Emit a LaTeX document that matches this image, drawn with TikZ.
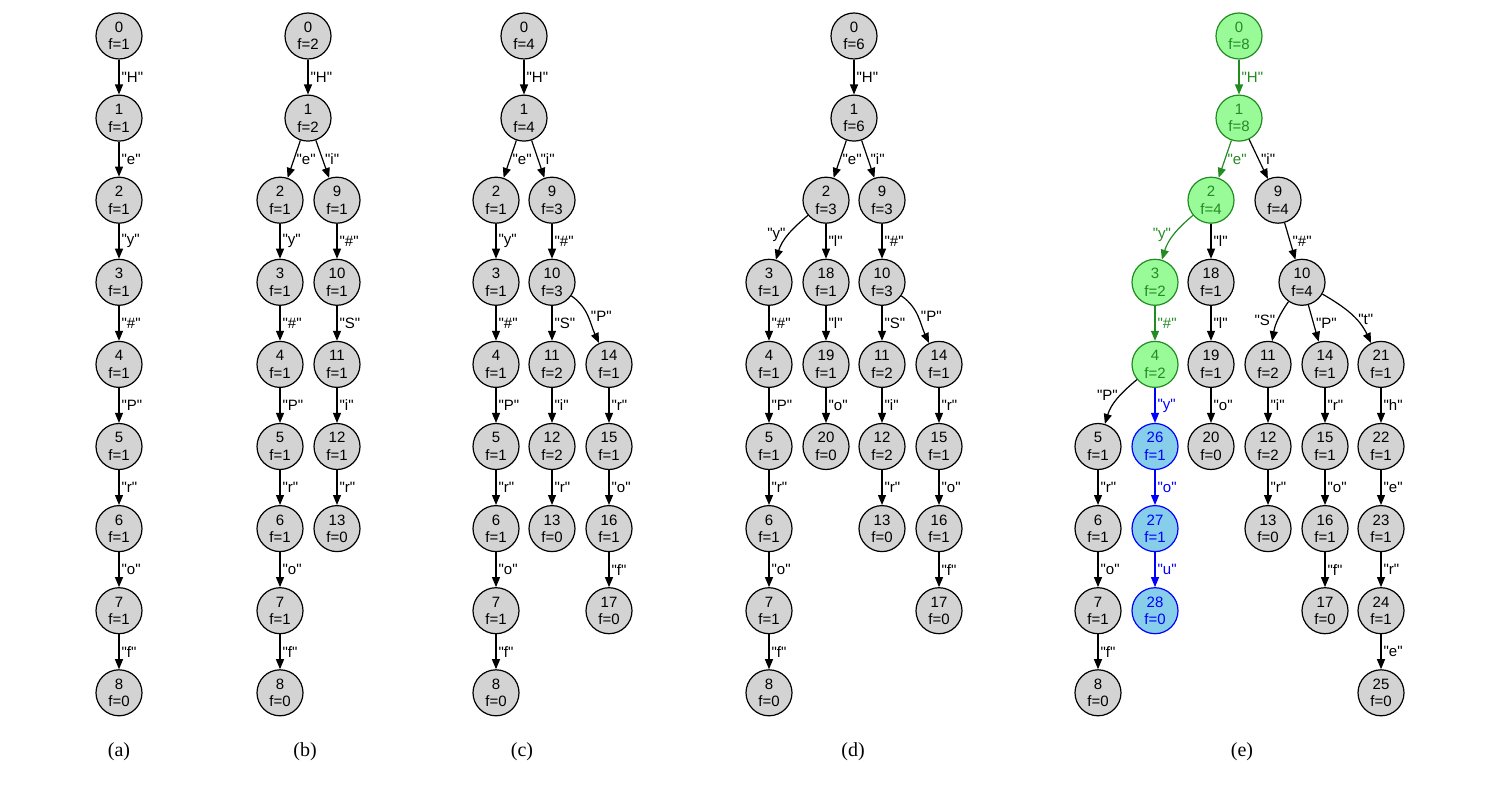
\documentclass[tikz,border=0pt]{standalone}
\usepackage{fontspec}
\newfontfamily\nodefont{Liberation Sans}
\newfontfamily\capfont{Liberation Serif}
\usetikzlibrary{arrows.meta}
\definecolor{nodegray}{HTML}{D3D3D3}
\definecolor{pathgreen}{HTML}{228B22}
\definecolor{pathfill}{HTML}{98FB98}
\definecolor{newfill}{HTML}{87CEEB}
\definecolor{newblue}{HTML}{0000FF}
\newcommand{\qt}[1]{\symbol{34}#1\symbol{34}}

\tikzset{
  tnode/.style={circle, draw, line width=1.2pt, fill=nodegray, minimum size=46pt,
    inner sep=0pt, align=center, font=\nodefont\fontsize{15}{17.5}\selectfont},
  gnode/.style={tnode, draw=pathgreen, fill=pathfill, text=pathgreen},
  bnode/.style={tnode, draw=newblue, fill=newfill, text=newblue},
  edge/.style={line width=1.2pt, -{Triangle[length=10pt,width=8pt]}},
  gedge/.style={edge, pathgreen},
  bedge/.style={edge, newblue},
  elab/.style={right, inner sep=2pt, font=\nodefont\fontsize{15}{17}\selectfont},
  caption/.style={font=\capfont\fontsize{20}{24}\selectfont},
}

\begin{document}
\begin{tikzpicture}[x=1pt, y=-82.1pt]
  \useasboundingbox (0,-0.4385) rectangle (1504,9.111);

  % (a) one chain
  \foreach \n/\fv in {0/1,1/1,2/1,3/1,4/1,5/1,6/1,7/1,8/0}
    \node[tnode] (a\n) at (119,\n) {\n\\f=\fv};
  \foreach \p/\q/\lab in {0/1/H,1/2/e,2/3/y,3/4/\#,4/5/P,5/6/r,6/7/o,7/8/f}
    \draw[edge] (a\p) -- node[elab] {\qt{\lab}} (a\q);

  % (b)
  \foreach \n/\x/\row/\fv in {0/308/0/2,1/308/1/2,2/280/2/1,3/280/3/1,4/280/4/1,
      5/280/5/1,6/280/6/1,7/280/7/1,8/280/8/0,9/337/2/1,10/337/3/1,11/337/4/1,
      12/337/5/1,13/337/6/0}
    \node[tnode] (b\n) at (\x,\row) {\n\\f=\fv};
  \foreach \p/\q/\lab in {0/1/H,1/2/e,2/3/y,3/4/\#,4/5/P,5/6/r,6/7/o,7/8/f,
      1/9/i,9/10/\#,10/11/S,11/12/i,12/13/r}
    \draw[edge] (b\p) -- node[elab] {\qt{\lab}} (b\q);

  % (c)
  \foreach \n/\x/\row/\fv in {0/524/0/4,1/524/1/4,2/496/2/1,3/496/3/1,4/496/4/1,
      5/496/5/1,6/496/6/1,7/496/7/1,8/496/8/0,9/552/2/3,10/552/3/3,11/552/4/2,
      12/552/5/2,13/552/6/0,14/609/4/1,15/609/5/1,16/609/6/1,17/609/7/0}
    \node[tnode] (c\n) at (\x,\row) {\n\\f=\fv};
  \foreach \p/\q/\lab in {0/1/H,1/2/e,2/3/y,3/4/\#,4/5/P,5/6/r,6/7/o,7/8/f,
      1/9/i,9/10/\#,10/11/S,11/12/i,12/13/r,14/15/r,15/16/o,16/17/f}
    \draw[edge] (c\p) -- node[elab] {\qt{\lab}} (c\q);
  \draw[edge] (c10) to[out=-35,in=115] node[elab] {\qt{P}} (c14);

  % (d)
  \foreach \n/\x/\row/\fv in {0/854/0/6,1/854/1/6,2/826/2/3,9/882/2/3,3/769/3/1,
      4/769/4/1,5/769/5/1,6/769/6/1,7/769/7/1,8/769/8/0,18/826/3/1,19/826/4/1,
      20/826/5/0,10/882/3/3,11/882/4/2,12/882/5/2,13/882/6/0,14/939/4/1,
      15/939/5/1,16/939/6/1,17/939/7/0}
    \node[tnode] (d\n) at (\x,\row) {\n\\f=\fv};
  \foreach \p/\q/\lab in {0/1/H,1/2/e,1/9/i,2/18/l,18/19/l,19/20/o,3/4/\#,4/5/P,
      5/6/r,6/7/o,7/8/f,9/10/\#,10/11/S,11/12/i,12/13/r,14/15/r,15/16/o,16/17/f}
    \draw[edge] (d\p) -- node[elab] {\qt{\lab}} (d\q);
  \draw[edge] (d2) to[out=220,in=73] node[elab, left] {\qt{y}} (d3);
  \draw[edge] (d10) to[out=-35,in=115] node[elab] {\qt{P}} (d14);

  % (e) search path in green, new branch in blue
  \foreach \n/\x/\row/\fv in {9/1278/2/4,18/1211/3/1,10/1302/3/4,19/1211/4/1,
      11/1268/4/2,14/1325/4/1,21/1381/4/1,5/1098/5/1,20/1211/5/0,12/1268/5/2,
      15/1325/5/1,22/1381/5/1,6/1098/6/1,13/1268/6/0,16/1325/6/1,23/1381/6/1,
      7/1098/7/1,17/1325/7/0,24/1381/7/1,8/1098/8/0,25/1381/8/0}
    \node[tnode] (e\n) at (\x,\row) {\n\\f=\fv};
  \foreach \n/\x/\row/\fv in {0/1239/0/8,1/1239/1/8,2/1211/2/4,3/1155/3/2,4/1155/4/2}
    \node[gnode] (e\n) at (\x,\row) {\n\\f=\fv};
  \foreach \n/\x/\row/\fv in {26/1155/5/1,27/1155/6/1,28/1155/7/0}
    \node[bnode] (e\n) at (\x,\row) {\n\\f=\fv};

  \foreach \p/\q/\lab in {1/9/i,2/18/l,18/19/l,19/20/o,9/10/\#,10/14/P,5/6/r,
      6/7/o,7/8/f,11/12/i,12/13/r,14/15/r,15/16/o,16/17/f,21/22/h,22/23/e,
      23/24/r,24/25/e}
    \draw[edge] (e\p) -- node[elab] {\qt{\lab}} (e\q);
  \draw[edge] (e4) to[out=220,in=73] node[elab, left, pos=0.4] {\qt{P}} (e5);
  \draw[edge] (e10) to[out=235,in=80] node[elab, left] {\qt{S}} (e11);
  \draw[edge] (e10) to[out=-30,in=115] node[elab, pos=0.6] {\qt{t}} (e21);

  \foreach \p/\q/\lab in {0/1/H,1/2/e,3/4/\#}
    \draw[gedge] (e\p) -- node[elab] {\qt{\lab}} (e\q);
  \draw[gedge] (e2) to[out=220,in=73] node[elab, left] {\qt{y}} (e3);

  \foreach \p/\q/\lab in {4/26/y,26/27/o,27/28/u}
    \draw[bedge] (e\p) -- node[elab] {\qt{\lab}} (e\q);

  % sub-captions
  \node[caption] (capa) at (119,8.72) {(a)};
  \node[caption] (capb) at (305,8.72) {(b)};
  \node[caption] (capc) at (522,8.72) {(c)};
  \node[caption] (capd) at (853,8.72) {(d)};
  \node[caption] (cape) at (1242,8.72) {(e)};
\end{tikzpicture}
\end{document}
